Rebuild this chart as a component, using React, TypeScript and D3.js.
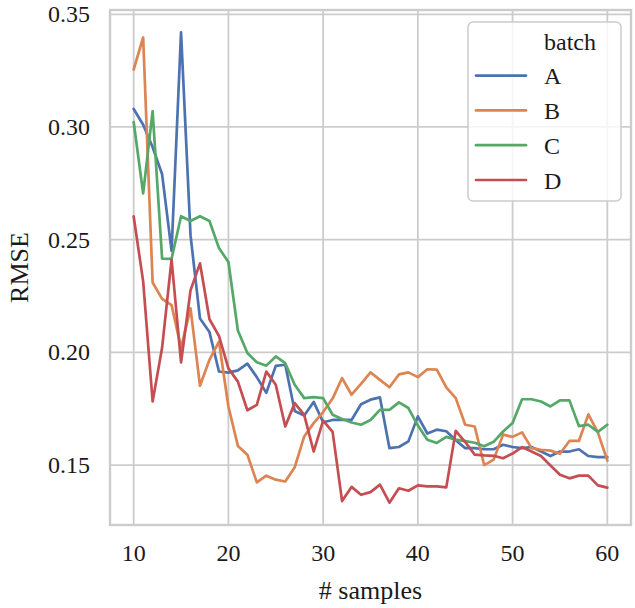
import React from "react";
import * as d3 from "d3";

const samples: number[] = d3.range(10, 61);
const seriesNames = ["A", "B", "C", "D"];
const seriesColors = ["#4c72b0", "#dd8452", "#55a868", "#c44e52"];

const rmseA = [0.308,0.301,0.291,0.279,0.245,0.342,0.252,0.215,0.209,0.1915,0.191,0.192,0.195,0.189,0.182,0.194,0.1945,0.174,0.172,0.178,0.169,0.170,0.170,0.170,0.177,0.179,0.180,0.1575,0.158,0.1605,0.1716,0.164,0.1657,0.165,0.161,0.1575,0.1575,0.157,0.157,0.159,0.158,0.1575,0.158,0.156,0.154,0.156,0.156,0.157,0.154,0.1535,0.1535];
const rmseB = [0.3255,0.3397,0.231,0.2237,0.221,0.202,0.2195,0.1852,0.1967,0.2048,0.176,0.1585,0.1546,0.1423,0.1453,0.1435,0.1427,0.149,0.1627,0.1686,0.1735,0.1795,0.1886,0.1812,0.186,0.1911,0.1878,0.1845,0.1902,0.1911,0.189,0.1925,0.1923,0.1845,0.1797,0.1679,0.1671,0.150,0.1524,0.1635,0.1625,0.1645,0.1575,0.1568,0.1564,0.155,0.1607,0.1607,0.1725,0.1645,0.152];
const rmseC = [0.3022,0.2705,0.307,0.2416,0.2415,0.2604,0.2583,0.2604,0.2583,0.2463,0.2401,0.2097,0.1997,0.1956,0.1941,0.1982,0.1952,0.1856,0.1797,0.1801,0.1797,0.1723,0.1704,0.1689,0.1679,0.170,0.1745,0.1745,0.1778,0.1753,0.1675,0.1612,0.1598,0.1625,0.1613,0.1606,0.1599,0.1583,0.1603,0.1649,0.1687,0.1792,0.1792,0.1782,0.176,0.1787,0.1787,0.1673,0.1679,0.1647,0.1679];
const rmseD = [0.2603,0.2315,0.1782,0.202,0.2412,0.1955,0.2275,0.2395,0.2147,0.2073,0.1929,0.187,0.1743,0.1767,0.1915,0.1856,0.1671,0.1775,0.1723,0.156,0.1697,0.1647,0.134,0.1403,0.1368,0.138,0.1413,0.1333,0.1397,0.1386,0.141,0.1405,0.1405,0.1401,0.1652,0.1602,0.1546,0.1543,0.1541,0.153,0.1551,0.158,0.156,0.154,0.1498,0.1457,0.1441,0.1453,0.1453,0.141,0.140];

const xTicks = [10, 20, 30, 40, 50, 60];
const yTicks = [0.15, 0.2, 0.25, 0.3, 0.35];

const W = 635, H = 608;
const L = 110, R = 631, T = 10, B = 525;
const FONT = "'Liberation Serif', 'DejaVu Serif', serif";

export default function App() {
  const x = d3.scaleLinear().domain([7.5, 62.5]).range([L, R]);
  const y = d3.scaleLinear().domain([0.1234, 0.3519]).range([B, T]);
  const allSeries = [rmseA, rmseB, rmseC, rmseD];
  const line = d3.line<number>().x((_, i) => x(samples[i])).y((v) => y(v));
  const grid = "#cccccc";
  const txt = "#1a1a1a";
  return (
    <svg width={W} height={H} style={{ position: "absolute", left: 0, top: 0 }} fontFamily={FONT}>
      <rect x={0} y={0} width={W} height={H} fill="#fff" />
      {xTicks.map((t) => (
        <line key={"gx" + t} x1={x(t)} x2={x(t)} y1={T} y2={B} stroke={grid} strokeWidth={1.8} />
      ))}
      {yTicks.map((t) => (
        <line key={"gy" + t} x1={L} x2={R} y1={y(t)} y2={y(t)} stroke={grid} strokeWidth={1.8} />
      ))}
      {allSeries.map((s, i) => (
        <path key={seriesNames[i]} d={line(s) || ""} fill="none" stroke={seriesColors[i]} strokeWidth={2.7} strokeLinejoin="round" strokeLinecap="round" />
      ))}
      <rect x={L} y={T} width={R - L} height={B - T} fill="none" stroke={grid} strokeWidth={2.4} />
      {xTicks.map((t) => (
        <text key={"tx" + t} x={x(t)} y={561} textAnchor="middle" fontSize={24} fill={txt}>{t}</text>
      ))}
      {yTicks.map((t) => (
        <text key={"ty" + t} x={90} y={y(t) + 8} textAnchor="end" fontSize={24} fill={txt}>{t.toFixed(2)}</text>
      ))}
      <text x={(L + R) / 2} y={599} textAnchor="middle" fontSize={26} fill={txt}># samples</text>
      <text transform={`translate(28,${(T + B) / 2}) rotate(-90)`} textAnchor="middle" fontSize={26} fill={txt}>RMSE</text>
      <g>
        <rect x={468} y={22} width={153} height={179} rx={5} ry={5} fill="#fff" fillOpacity={0.8} stroke="#cccccc" strokeWidth={1.5} />
        <text x={544} y={50} fontSize={24} fill={txt}>batch</text>
        {seriesNames.map((n, i) => (
          <g key={"lg" + n}>
            <line x1={476} x2={526} y1={75.6 + i * 34.8} y2={75.6 + i * 34.8} stroke={seriesColors[i]} strokeWidth={2.7} strokeLinecap="round" />
            <text x={544} y={75.6 + i * 34.8 + 8.5} fontSize={24} fill={txt}>{n}</text>
          </g>
        ))}
      </g>
    </svg>
  );
}
